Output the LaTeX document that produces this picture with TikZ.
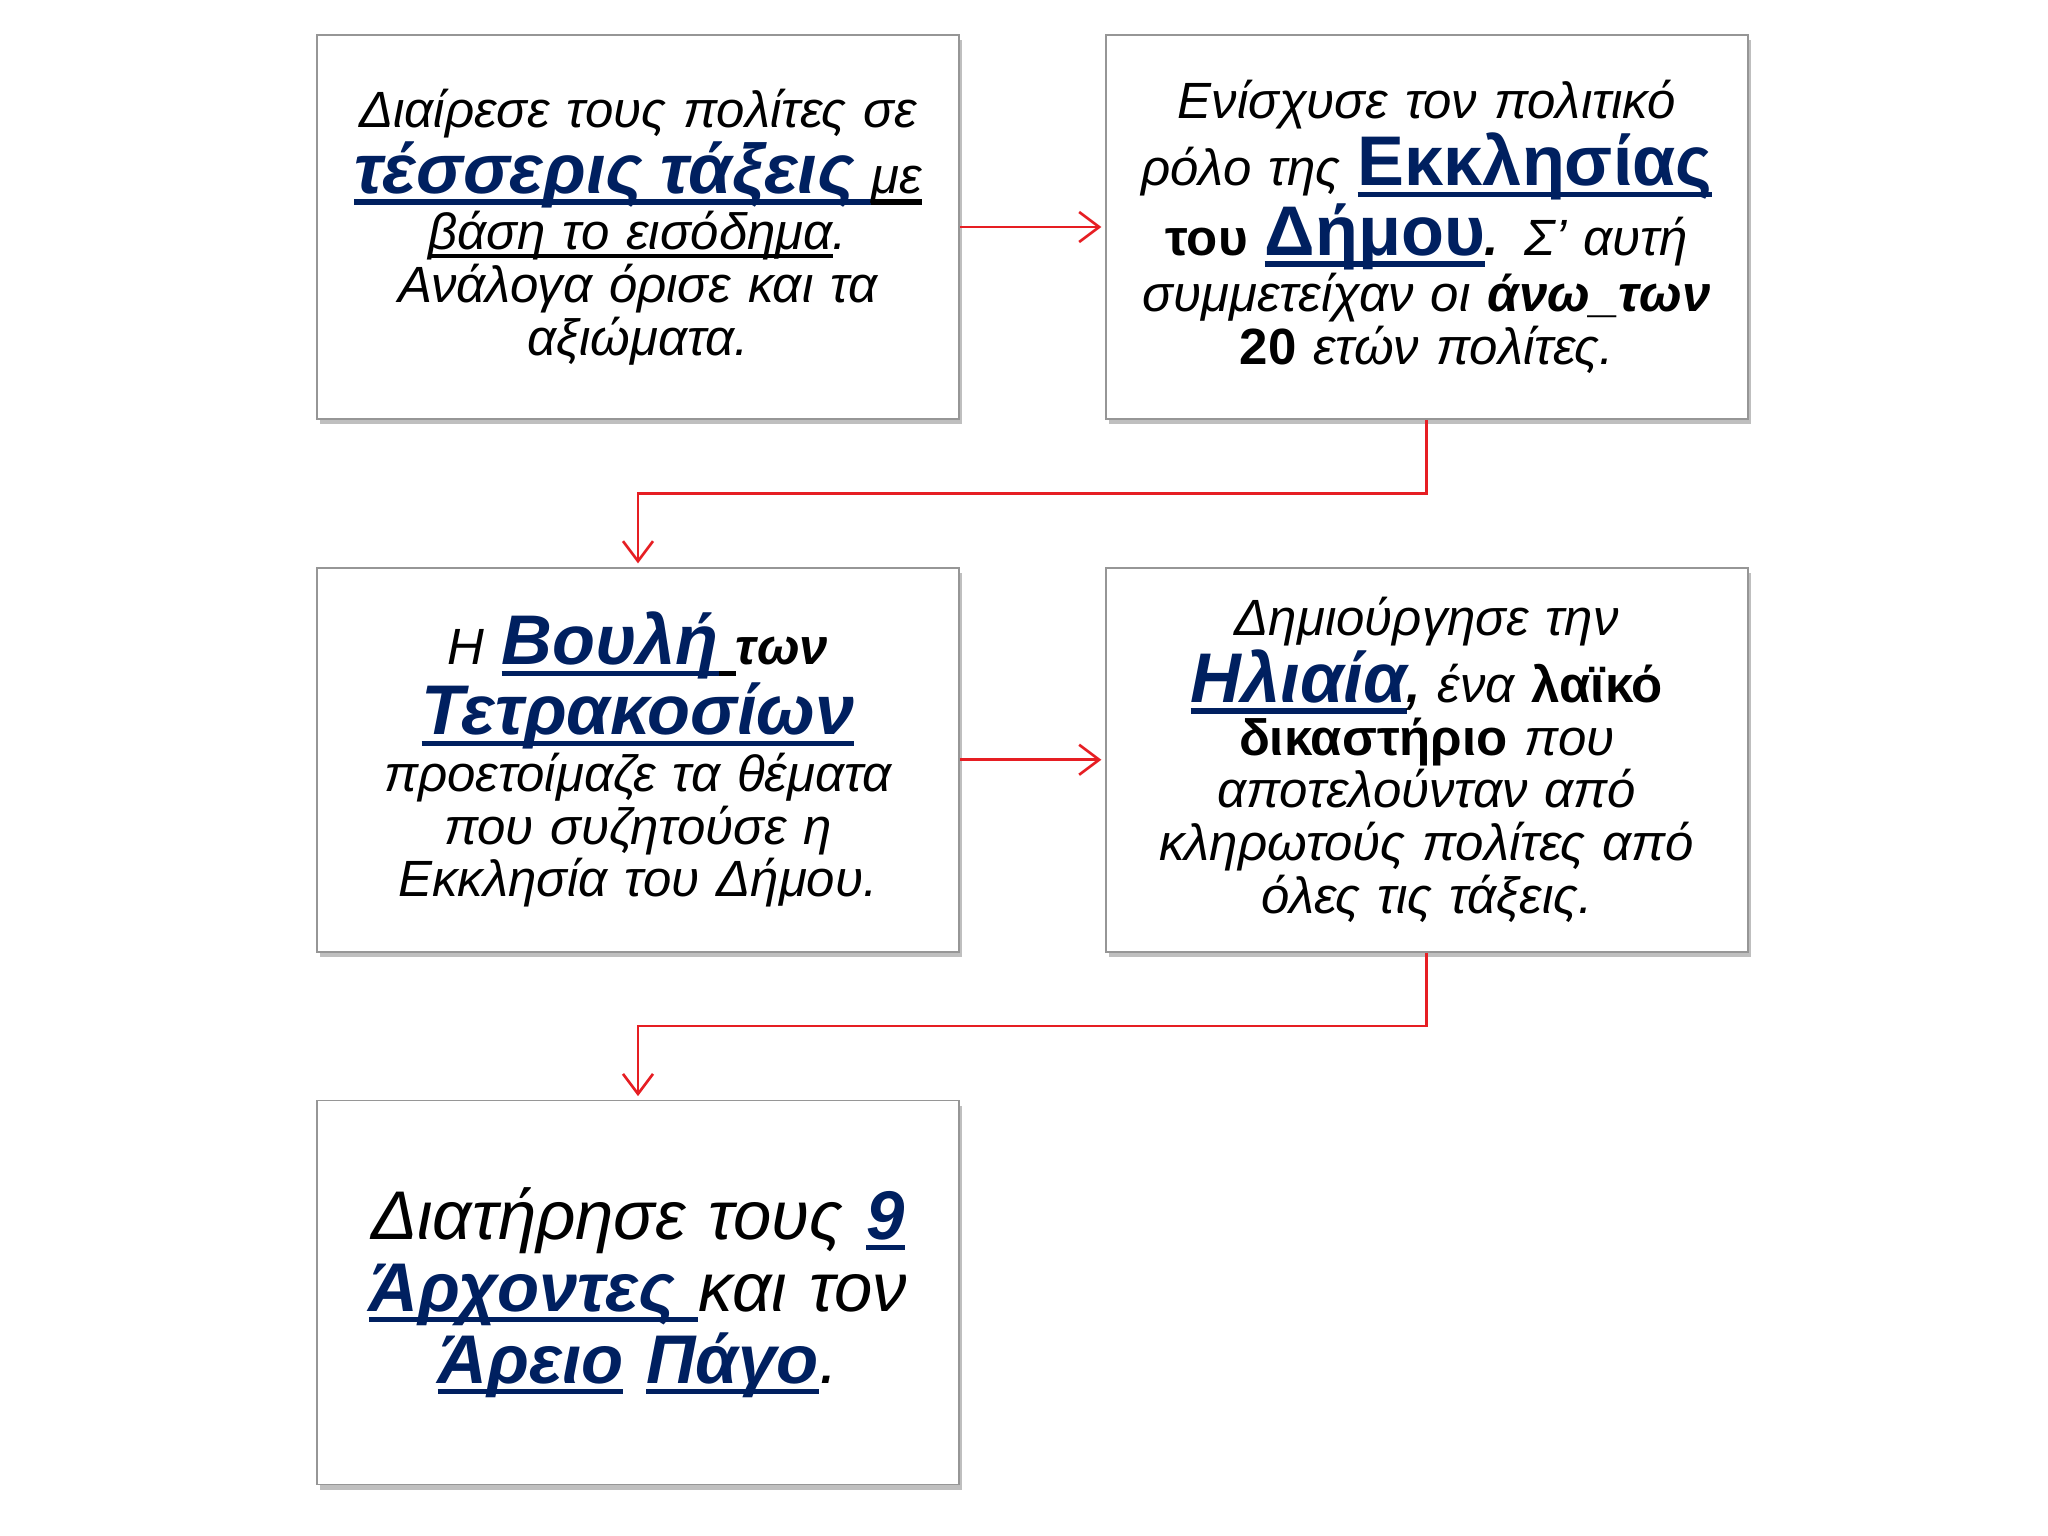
\documentclass[tikz,border=0pt]{standalone}
\usepackage{fontspec}
\setmainfont{Liberation Sans}
\usepackage{tikz}
\usetikzlibrary{arrows.meta, positioning, shadows}
\definecolor{navy}{RGB}{0, 32, 96}
\definecolor{panelborder}{RGB}{150, 150, 150}
\definecolor{linkred}{RGB}{230, 30, 35}
\newcommand{\nsz}{\fontsize{14.5}{15}\selectfont}
\newcommand{\bsz}{\fontsize{20}{21}\selectfont}
\newcommand{\lsz}{\fontsize{19.6}{20.5}\selectfont}
% underline at a fixed depth, in a given colour
\newcommand{\uln}[2][black]{\leavevmode\setbox0\hbox{#2}\rlap{\color{#1}\rule[-0.16em]{\wd0}{0.075em}}\box0}
\tikzstyle{panel} = [rectangle, draw=panelborder, line width=0.5pt, fill=white,
                     minimum width=6.42cm, minimum height=3.84cm, text width=6.0cm,
                     inner sep=0.21cm, align=center, font=\nsz\itshape,
                     drop shadow={shadow xshift=0.03cm, shadow yshift=-0.05cm, fill=black!50, opacity=0.5}]
\tikzstyle{link} = [-{Straight Barb[length=2mm, width=3mm]}, draw=linkred, line width=0.75pt, shorten >=1pt]

\begin{document}
\begin{tikzpicture}[node distance=1.47cm and 1.45cm]
    \useasboundingbox (0,0) rectangle (20.48,-15.36);
    % Row 1
    \node[panel] (classes) at (6.38,-2.27) {Διαίρεσε τους πολίτες σε\\
        {\bsz\bfseries\color{navy}\uln[navy]{τέσσερις τάξεις }}{\bsz\uln{\nsz με}}\\
        \uln{βάση το εισόδημα}.\\
        Ανάλογα όρισε και τα\\
        αξιώματα.};
    \node[panel, right=of classes] (assembly) {Ενίσχυσε τον πολιτικό\\
        ρόλο της {\bsz\bfseries\upshape\color{navy}\uln[navy]{Εκκλησίας}}\\
        {\bfseries\upshape του} {\bsz\bfseries\upshape\color{navy}\uln[navy]{Δήμου}}{\bfseries.} Σ’ αυτή\\
        συμμετείχαν οι {\bfseries άνω\_των}\\
        {\bfseries\upshape 20} ετών πολίτες.};
    % Row 2
    \node[panel, below=of classes] (council) {Η {\bsz\bfseries\color{navy}\uln[navy]{Βουλή}}{\bsz\uln{\ }}{\bfseries των}\\
        {\bsz\bfseries\color{navy}\uln[navy]{Τετρακοσίων}}\\
        προετοίμαζε τα θέματα\\
        που συζητούσε η\\
        Εκκλησία του Δήμου.};
    \node[panel, right=of council] (court) {Δημιούργησε την\\
        {\bsz\bfseries\color{navy}\uln[navy]{Ηλιαία}}{\bfseries ,} ένα {\bfseries\upshape λαϊκό}\\
        {\bfseries\upshape δικαστήριο} που\\
        αποτελούνταν από\\
        κληρωτούς πολίτες από\\
        όλες τις τάξεις.};
    % Row 3
    \node[panel, below=of council, font=\lsz\itshape] (archons) {Διατήρησε τους {\bfseries\color{navy}\uln[navy]{9}}\\
        {\bfseries\color{navy}\uln[navy]{Άρχοντες }}και τον\\
        {\bfseries\color{navy}\uln[navy]{Άρειο}} {\bfseries\color{navy}\uln[navy]{Πάγο}}.};

    % Connectors
    \draw[link] (classes) -- (assembly);
    \draw[link] (assembly.south) -- ++(0,-0.735) -| (council.north);
    \draw[link] (council) -- (court);
    \draw[link] (court.south) -- ++(0,-0.735) -| (archons.north);
\end{tikzpicture}
\end{document}
